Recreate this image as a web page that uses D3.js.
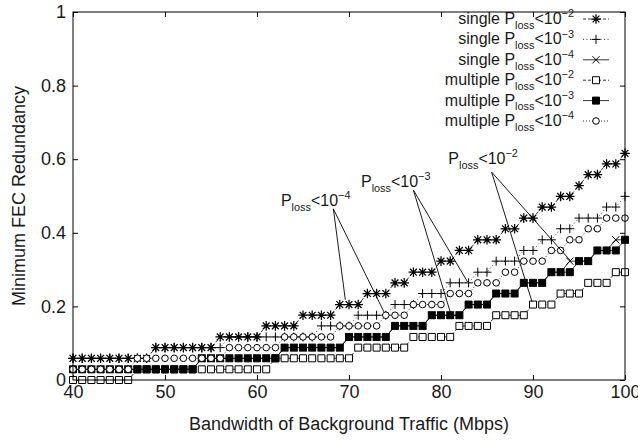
<!DOCTYPE html>
<html>
<head>
<meta charset="utf-8">
<script src="https://cdn.jsdelivr.net/npm/d3@7"></script>
<style>
body { margin: 0; background: #fff; }
text { font-family: "Liberation Sans", Arial, Helvetica, sans-serif; fill: #1a1a1a; }
</style>
</head>
<body>
<svg id="chart" width="638" height="440"></svg>
<script>
// bandwidth samples (Mbps)
var bw = [40,41,42,43,44,45,46,47,48,49,
          50,51,52,53,54,55,56,57,58,59,
          60,61,62,63,64,65,66,67,68,69,
          70,71,72,73,74,75,76,77,78,79,
          80,81,82,83,84,85,86,87,88,89,
          90,91,92,93,94,95,96,97,98,99,
          100];

// minimum FEC redundancy
var single2 = [.059,.059,.059,.059,.059,.059,.059,.059,.059,.088,
               .088,.088,.088,.088,.088,.088,.117,.117,.117,.117,
               .117,.147,.147,.147,.147,.176,.176,.176,.176,.205,
               .205,.205,.235,.235,.235,.264,.264,.293,.293,.293,
               .323,.323,.352,.352,.381,.381,.381,.411,.411,.440,
               .440,.470,.470,.499,.499,.528,.558,.558,.587,.587,
               .616];
var single3 = [.059,.059,.059,.059,.059,.059,.059,.059,.059,.088,
               .088,.088,.088,.088,.088,.088,.088,.117,.117,.117,
               .117,.117,.117,.117,.117,.117,.117,.147,.147,.147,
               .147,.176,.176,.176,.176,.205,.205,.205,.235,.235,
               .235,.264,.264,.264,.293,.293,.323,.323,.323,.352,
               .352,.381,.381,.411,.411,.440,.440,.440,.470,.470,
               .499];
var single4 = [.029,.029,.029,.029,.029,.029,.029,.029,.029,.029,
               .029,.029,.029,.029,.059,.059,.059,.059,.059,.059,
               .059,.059,.059,.088,.088,.088,.088,.088,.088,.088,
               .117,.117,.117,.117,.117,.147,.147,.147,.147,.176,
               .176,.176,.176,.205,.205,.205,.235,.235,.235,.264,
               .264,.264,.293,.293,.323,.323,.323,.352,.352,.381,
               .381];
var multi2  = [0,0,0,0,0,0,0,.029,.029,.029,
               .029,.029,.029,.029,.029,.029,.029,.029,.029,.029,
               .029,.029,.059,.059,.059,.059,.059,.059,.059,.059,
               .059,.088,.088,.088,.088,.088,.088,.117,.117,.117,
               .117,.117,.147,.147,.147,.147,.176,.176,.176,.176,
               .205,.205,.205,.235,.235,.235,.264,.264,.264,.293,
               .293];
var multi3  = [.029,.029,.029,.029,.029,.029,.029,.029,.029,.029,
               .029,.029,.029,.029,.059,.059,.059,.059,.059,.059,
               .059,.059,.059,.088,.088,.088,.088,.088,.088,.088,
               .117,.117,.117,.117,.117,.147,.147,.147,.147,.176,
               .176,.176,.176,.205,.205,.205,.235,.235,.235,.264,
               .264,.264,.293,.293,.293,.323,.323,.352,.352,.352,
               .381];
var multi4  = [.029,.029,.029,.029,.029,.029,.029,.059,.059,.059,
               .059,.059,.059,.059,.059,.059,.059,.088,.088,.088,
               .088,.088,.088,.117,.117,.117,.117,.117,.117,.147,
               .147,.147,.147,.147,.176,.176,.176,.205,.205,.205,
               .205,.235,.235,.235,.264,.264,.264,.293,.293,.323,
               .323,.323,.352,.352,.381,.381,.411,.411,.440,.440,
               .440];

var xTicks = [40, 50, 60, 70, 80, 90, 100];
var yTicks = [0, 0.2, 0.4, 0.6, 0.8, 1];

// legend rows: prefix, exponent, values, marker, dash
var seriesNames = ["single", "single", "single", "multiple", "multiple", "multiple"];
var seriesExp = ["2", "3", "4", "2", "3", "4"];
var seriesVals = [single2, single3, single4, multi2, multi3, multi4];
var seriesMark = ["star", "plus", "cross", "square", "filled", "circle"];
var seriesDash = ["3,2", "1,2.5", null, "3,2", null, "1,2"];

// annotations: exponent, label pos, apex, two targets (data units)
var annExp = ["4", "3", "2"];
var annLabel = [[62.6, 0.473], [71.3, 0.524], [80.8, 0.587]];
var annApex = [[68.3, 0.465], [77.0, 0.516], [85.5, 0.565]];
var annTargets = [[[69.6, 0.218], [73.8, 0.185]],
                  [[81.0, 0.185], [82.9, 0.266]],
                  [[89.9, 0.212], [94.0, 0.326]]];

var L = 73, R = 625, T = 12, B = 380;
var svg = d3.select("#chart");
var x = d3.scaleLinear().domain([40, 100]).range([L, R]);
var y = d3.scaleLinear().domain([0, 1]).range([B, T]);

function markerPath(type) {
    var p = d3.path();
    if (type == "star") {
        var r = 4.8, q = 3.4;
        p.moveTo(-r, 0); p.lineTo(r, 0);
        p.moveTo(0, -r); p.lineTo(0, r);
        p.moveTo(-q, -q); p.lineTo(q, q);
        p.moveTo(-q, q); p.lineTo(q, -q);
    } else if (type == "plus") {
        p.moveTo(-4.5, 0); p.lineTo(4.5, 0);
        p.moveTo(0, -4.5); p.lineTo(0, 4.5);
    } else if (type == "cross") {
        p.moveTo(-3.6, -3.6); p.lineTo(3.6, 3.6);
        p.moveTo(-3.6, 3.6); p.lineTo(3.6, -3.6);
    } else if (type == "square" || type == "filled") {
        p.rect(-3.5, -3.5, 7, 7);
    } else {
        p.arc(0, 0, 3.3, 0, 2 * Math.PI);
    }
    return p.toString();
}
function markerFill(type) {
    if (type == "filled") return "#000";
    if (type == "square" || type == "circle") return "#fff";
    return "none";
}
function markerStroke(type) {
    return type == "star" ? 1.25 : 1;
}

// axes with inward ticks on all four sides
svg.append("g").attr("transform", "translate(0," + B + ")")
    .call(d3.axisBottom(x).tickValues(xTicks).tickSizeInner(-5).tickSizeOuter(0).tickPadding(5));
svg.append("g").attr("transform", "translate(" + L + ",0)")
    .call(d3.axisLeft(y).tickValues(yTicks).tickSizeInner(-5).tickSizeOuter(0).tickPadding(7)
          .tickFormat(function(d) { return d == 0 || d == 1 ? d : d.toFixed(1); }));
svg.append("g").attr("transform", "translate(0," + T + ")")
    .call(d3.axisTop(x).tickValues(xTicks).tickSizeInner(-5).tickSizeOuter(0).tickFormat(""));
svg.append("g").attr("transform", "translate(" + R + ",0)")
    .call(d3.axisRight(y).tickValues(yTicks).tickSizeInner(-5).tickSizeOuter(0).tickFormat(""));
svg.selectAll(".domain").remove();
svg.selectAll(".tick line").attr("stroke", "#000");
svg.selectAll(".tick text").attr("font-size", 18).attr("font-family", null).attr("fill", "#1a1a1a");

svg.append("text").attr("x", (L + R) / 2).attr("y", 430).attr("text-anchor", "middle")
    .attr("font-size", 18).text("Bandwidth of Background Traffic (Mbps)");
svg.append("text").attr("transform", "translate(25," + ((T + B) / 2) + ") rotate(-90)")
    .attr("text-anchor", "middle").attr("font-size", 18).text("Minimum FEC Redundancy");

// series
var line = d3.line().x(function(d, i) { return x(bw[i]); }).y(function(d) { return y(d); });
seriesVals.forEach(function(vals, k) {
    var g = svg.append("g");
    g.append("path").datum(vals).attr("d", line).attr("fill", "none")
        .attr("stroke", "#000").attr("stroke-width", 0.8)
        .attr("stroke-dasharray", seriesDash[k]);
    g.selectAll("path.m").data(vals).join("path").attr("class", "m")
        .attr("transform", function(d, i) { return "translate(" + x(bw[i]) + "," + y(d) + ")"; })
        .attr("d", markerPath(seriesMark[k]))
        .attr("fill", markerFill(seriesMark[k]))
        .attr("stroke", "#000").attr("stroke-width", markerStroke(seriesMark[k]));
});

function plossText(t, prefix, exp, size) {
    t.append("tspan").text(prefix + "P");
    t.append("tspan").attr("font-size", size * 0.68).attr("dy", size * 0.3).text("loss");
    t.append("tspan").attr("dy", -size * 0.3).text("<10");
    t.append("tspan").attr("font-size", size * 0.68).attr("dy", -size * 0.42).text("\u2212" + exp);
}

// annotations
annExp.forEach(function(e, k) {
    var t = svg.append("text").attr("x", x(annLabel[k][0])).attr("y", y(annLabel[k][1]))
        .attr("font-size", 16);
    plossText(t, "", e, 16);
    annTargets[k].forEach(function(p) {
        svg.append("line")
            .attr("x1", x(annApex[k][0])).attr("y1", y(annApex[k][1]))
            .attr("x2", x(p[0])).attr("y2", y(p[1]))
            .attr("stroke", "#000").attr("stroke-width", 0.9);
    });
});

// legend
var leg = svg.append("g");
seriesNames.forEach(function(n, k) {
    var cy = 19 + k * 20.4;
    var t = leg.append("text").attr("x", 574).attr("y", cy + 5)
        .attr("text-anchor", "end").attr("font-size", 16);
    plossText(t, n + " ", seriesExp[k], 16);
    leg.append("line").attr("x1", 583).attr("x2", 609).attr("y1", cy).attr("y2", cy)
        .attr("stroke", "#000").attr("stroke-width", 0.8).attr("stroke-dasharray", seriesDash[k]);
    leg.append("path").attr("transform", "translate(596," + cy + ")")
        .attr("d", markerPath(seriesMark[k])).attr("fill", markerFill(seriesMark[k]))
        .attr("stroke", "#000").attr("stroke-width", markerStroke(seriesMark[k]));
});

// frame
svg.append("rect").attr("x", L).attr("y", T).attr("width", R - L).attr("height", B - T)
    .attr("fill", "none").attr("stroke", "#000").attr("stroke-width", 1);
</script>
</body>
</html>
